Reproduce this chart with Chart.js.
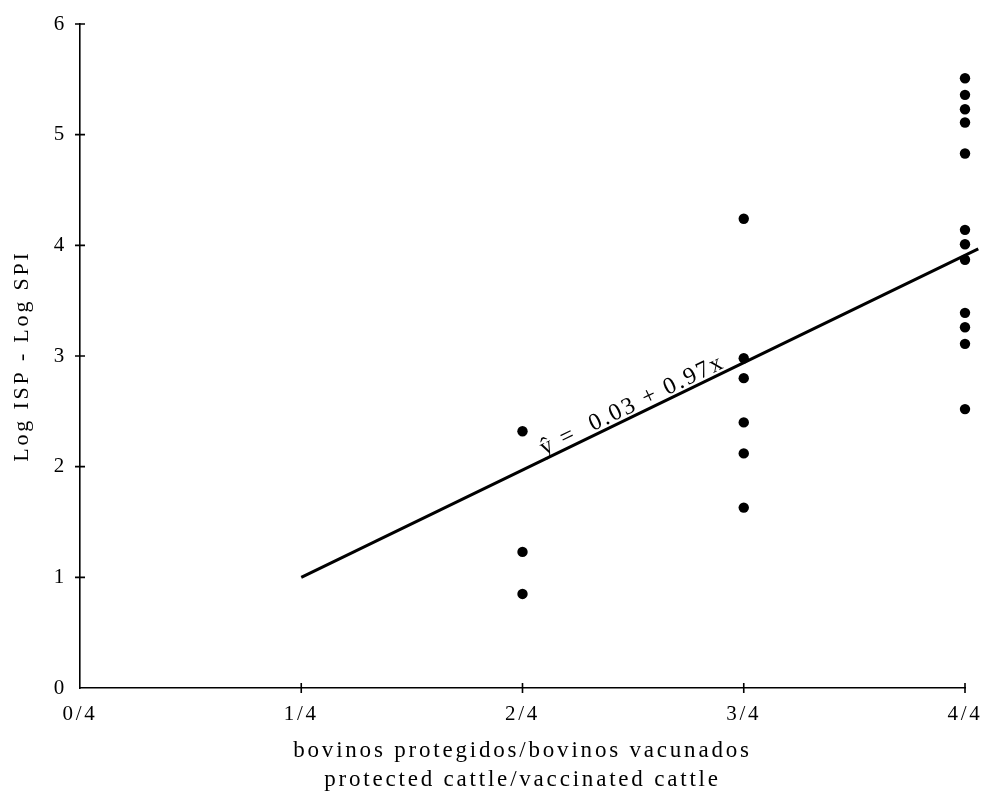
<!DOCTYPE html>
<html>
<head>
<meta charset="utf-8">
<title>Log ISP - Log SPI vs protected/vaccinated cattle</title>
<script src="https://cdn.jsdelivr.net/npm/chart.js@4/dist/chart.umd.min.js"></script>
<style>
  html, body { margin: 0; padding: 0; background: #ffffff; }
  canvas { display: block; }
</style>
</head>
<body>
<canvas id="chart" width="981" height="802"></canvas>
<script>
// Fraction of vaccinated cattle that were protected (x, in quarters)
const xTickLabels = ['0/4', '1/4', '2/4', '3/4', '4/4'];

// Log ISP - Log SPI observed in each group
const protectedTwo = [2.32, 1.23, 0.85];
const protectedThree = [4.24, 2.98, 2.80, 2.40, 2.12, 1.63];
const protectedFour = [5.51, 5.36, 5.23, 5.11, 4.83, 4.14, 4.01, 3.87, 3.39, 3.26, 3.11, 2.52];

// Fitted regression  y = 0.03 + 0.97 x
const intercept = 0.03;
const slope = 0.97;
const fitRange = [1, 4.06];
const equationText = 'ŷ =  0.03 + 0.97x';

const FONT = '"Liberation Serif", "Times New Roman", serif';
const INK = '#000000';

function pts(x, ys) { return ys.map(y => ({ x: x, y: y })); }

const dotStyle = {
  type: 'scatter',
  pointRadius: 5.2,
  pointHoverRadius: 5.2,
  pointBackgroundColor: INK,
  pointBorderColor: INK,
  pointBorderWidth: 0,
  showLine: false,
  clip: false
};

// Typewriter-like spacing of the lettering
const spacing = {
  id: 'spacing',
  beforeUpdate(chart) { chart.ctx.letterSpacing = '2.8px'; },
  beforeDraw(chart) { chart.ctx.letterSpacing = '2.8px'; }
};

// Short cross-shaped tick marks through both axes
const crossTicks = {
  id: 'crossTicks',
  afterDraw(chart) {
    const { ctx, scales: { x, y } } = chart;
    const half = 5;
    ctx.save();
    ctx.strokeStyle = INK;
    ctx.lineWidth = 1.6;
    ctx.beginPath();
    for (let v = 1; v <= 4; v++) {
      const px = x.getPixelForValue(v);
      ctx.moveTo(px, y.bottom - half);
      ctx.lineTo(px, y.bottom + half);
    }
    for (let v = 1; v <= 6; v++) {
      const py = y.getPixelForValue(v);
      ctx.moveTo(x.left - half, py);
      ctx.lineTo(x.left + half, py);
    }
    ctx.stroke();
    ctx.restore();
  }
};

// Equation written along the fitted line
const equationLabel = {
  id: 'equationLabel',
  afterDatasetsDraw(chart) {
    const { ctx, scales: { x, y } } = chart;
    const xa = 2.0, xb = 3.0;
    const p1 = { x: x.getPixelForValue(xa), y: y.getPixelForValue(intercept + slope * xa) };
    const p2 = { x: x.getPixelForValue(xb), y: y.getPixelForValue(intercept + slope * xb) };
    const ang = Math.atan2(p2.y - p1.y, p2.x - p1.x);
    const xm = 2.5;
    const cx = x.getPixelForValue(xm);
    const cy = y.getPixelForValue(intercept + slope * xm);
    ctx.save();
    ctx.letterSpacing = '2.2px';
    ctx.translate(cx, cy);
    ctx.rotate(ang);
    ctx.fillStyle = INK;
    ctx.font = '24px ' + FONT;
    ctx.textAlign = 'center';
    ctx.textBaseline = 'alphabetic';
    ctx.fillText(equationText, 4, -4);
    ctx.restore();
  }
};

new Chart(document.getElementById('chart'), {
  data: {
    datasets: [
      Object.assign({ data: pts(2, protectedTwo) }, dotStyle),
      Object.assign({ data: pts(3, protectedThree) }, dotStyle),
      Object.assign({ data: pts(4, protectedFour) }, dotStyle),
      {
        type: 'line',
        data: fitRange.map(v => ({ x: v, y: intercept + slope * v })),
        borderColor: INK,
        borderWidth: 3,
        pointRadius: 0,
        fill: false,
        clip: false,
        tension: 0
      }
    ]
  },
  options: {
    responsive: false,
    devicePixelRatio: 1,
    animation: false,
    layout: { padding: { top: 24, right: 16, left: 0, bottom: 0 } },
    plugins: {
      legend: { display: false },
      tooltip: { enabled: false }
    },
    scales: {
      x: {
        type: 'linear',
        min: 0,
        max: 4,
        afterFit(scale) {
          scale.height = 114;
          scale.paddingLeft = 0;
          scale.paddingRight = 0;
        },
        afterBuildTicks(scale) {
          scale.ticks = xTickLabels.map((_, i) => ({ value: i }));
        },
        grid: { display: true, drawOnChartArea: false, drawTicks: false },
        border: { display: true, color: INK, width: 1.6 },
        ticks: {
          color: INK,
          padding: 14,
          maxRotation: 0,
          autoSkip: false,
          font: { family: FONT, size: 21 },
          callback: (v) => xTickLabels[v]
        },
        title: {
          display: true,
          text: ['bovinos protegidos/bovinos vacunados', 'protected cattle/vaccinated cattle'],
          color: INK,
          font: { family: FONT, size: 23, lineHeight: 1.27 },
          padding: { top: 0, bottom: 7 }
        }
      },
      y: {
        type: 'linear',
        min: 0,
        max: 6,
        afterFit(scale) {
          scale.width = 80;
          scale.paddingTop = 0;
          scale.paddingBottom = 0;
        },
        grid: { display: true, drawOnChartArea: false, drawTicks: false },
        border: { display: true, color: INK, width: 1.6 },
        ticks: {
          stepSize: 1,
          color: INK,
          padding: 13,
          font: { family: FONT, size: 21 }
        },
        title: {
          display: true,
          text: 'Log ISP - Log SPI',
          color: INK,
          font: { family: FONT, size: 22, lineHeight: 1.3 },
          padding: { top: 8, bottom: 0 }
        }
      }
    }
  },
  plugins: [spacing, crossTicks, equationLabel]
});
</script>
</body>
</html>
